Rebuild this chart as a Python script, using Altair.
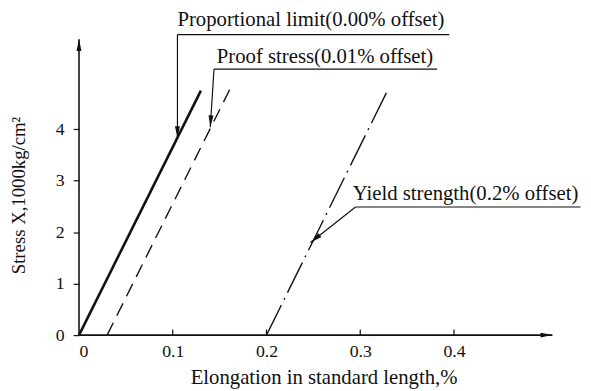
import math
import altair as alt
import pandas as pd

# ---- data ----
series = ["Proportional limit", "Proof stress", "Yield strength"]
line_x0 = [0.0, 0.03, 0.20]
line_y0 = [0.0, 0.0, 0.0]
line_x1 = [0.130, 0.161, 0.329]
line_y1 = [4.75, 4.78, 4.75]

ann_text = ["Proportional limit(0.00% offset)", "Proof stress(0.01% offset)", "Yield strength(0.2% offset)"]
ann_text_x = [0.105, 0.147, 0.292]
ann_text_y = [6.12, 5.40, 2.74]
ann_ul_x0 = [0.105, 0.144, 0.295]
ann_ul_x1 = [0.395, 0.382, 0.535]
ann_ul_y = [5.84, 5.17, 2.49]
ann_tip_x = [0.105, 0.140, 0.247]
ann_tip_y = [3.83, 4.04, 1.80]

x_ticks = [0, 0.1, 0.2, 0.3, 0.4]
y_ticks = [0, 1, 2, 3, 4]
x_max = 0.505
y_max = 5.75

W, H = 480, 300
FONT = "Liberation Serif"
INK = "#111111"

xs = alt.Scale(domain=[0, x_max], nice=False, zero=False)
ys = alt.Scale(domain=[0, y_max], nice=False, zero=False)

x_axis = alt.Axis(values=x_ticks, format="~g", ticks=False, domain=False, grid=False,
                  labelFont=FONT, labelFontSize=18, labelColor=INK, labelPadding=8,
                  title="Elongation in standard length,%", titleFont=FONT, titleFontSize=21,
                  titleFontWeight="normal", titleColor=INK, titleX=248, titleY=49,
                  titleBaseline="alphabetic", titleAlign="center")
y_axis = alt.Axis(values=y_ticks, format="d", ticks=True, tickSize=6, tickWidth=1.2, tickColor=INK,
                  domain=False, grid=False, labelFont=FONT, labelFontSize=18, labelColor=INK,
                  labelPadding=9, title="Stress X,1000kg/cm²", titleFont=FONT, titleFontSize=19,
                  titleFontWeight="normal", titleColor=INK, titleAngle=270, titleX=-55, titleY=158,
                  titleBaseline="alphabetic", titleAlign="center")


def X(field="x"):
    return alt.X(f"{field}:Q", scale=xs, axis=x_axis)


def Y(field="y"):
    return alt.Y(f"{field}:Q", scale=ys, axis=y_axis)


# lines
rows = []
for s, a, b, c, d in zip(series, line_x0, line_y0, line_x1, line_y1):
    rows.append({"series": s, "x": a, "y": b, "o": 0})
    rows.append({"series": s, "x": c, "y": d, "o": 1})
lines_df = pd.DataFrame(rows)

# annotation segments (underline + leader)
seg_rows = []
for i in range(3):
    seg_rows.append({"x": ann_ul_x0[i], "y": ann_ul_y[i], "x2": ann_ul_x1[i], "y2": ann_ul_y[i]})
    seg_rows.append({"x": ann_ul_x0[i], "y": ann_ul_y[i], "x2": ann_tip_x[i], "y2": ann_tip_y[i]})
seg_df = pd.DataFrame(seg_rows)

kx, ky = W / x_max, H / y_max
arrow_rows = []
for i in range(3):
    dx = (ann_ul_x0[i] - ann_tip_x[i]) * kx
    dys = -(ann_ul_y[i] - ann_tip_y[i]) * ky
    ang = math.degrees(math.atan2(dx, -dys)) % 360
    arrow_rows.append({"x": ann_tip_x[i], "y": ann_tip_y[i], "angle": ang})
arrow_rows.append({"x": 0.0, "y": y_max, "angle": 180})
arrow_rows.append({"x": x_max, "y": 0.0, "angle": 270})
arrow_df = pd.DataFrame(arrow_rows)

text_df = pd.DataFrame({"label": ann_text, "x": ann_text_x, "y": ann_text_y})

axis_df = pd.DataFrame({"x": [0.0, 0.0], "y": [0.0, 0.0], "x2": [0.0, x_max], "y2": [y_max, 0.0]})
xtick_df = pd.DataFrame({"x": x_ticks[1:], "y": [0.0] * 4, "y2": [0.11] * 4})

base_lines = alt.Chart(lines_df)

solid = base_lines.transform_filter(alt.datum.series == series[0]).mark_line(
    color=INK, strokeWidth=2.6).encode(x=X(), y=Y(), order="o:Q")
dashed = base_lines.transform_filter(alt.datum.series == series[1]).mark_line(
    color=INK, strokeWidth=1.4, strokeDash=[14, 8]).encode(x=X(), y=Y(), order="o:Q")
dashdot = base_lines.transform_filter(alt.datum.series == series[2]).mark_line(
    color=INK, strokeWidth=1.4, strokeDash=[34, 6, 2, 6]).encode(x=X(), y=Y(), order="o:Q")

axes_rules = alt.Chart(axis_df).mark_rule(color=INK, strokeWidth=1.6).encode(
    x=X(), y=Y(), x2="x2:Q", y2="y2:Q")
xticks = alt.Chart(xtick_df).mark_rule(color=INK, strokeWidth=1.2).encode(
    x=X(), y=Y(), y2="y2:Q")

segs = alt.Chart(seg_df).mark_rule(color=INK, strokeWidth=1.2).encode(
    x=X(), y=Y(), x2="x2:Q", y2="y2:Q")

arrows = alt.Chart(arrow_df).mark_point(
    shape="M0,0L-0.25,-1.2L0.25,-1.2Z", filled=True, color=INK, opacity=1, size=400).encode(
    x=X(), y=Y(), angle=alt.Angle("angle:Q", scale=None))

texts = alt.Chart(text_df).mark_text(
    align="left", baseline="middle", font=FONT, fontSize=21, color=INK).encode(
    x=X(), y=Y(), text="label:N")

chart = alt.layer(solid, dashed, dashdot, axes_rules, xticks, segs, arrows, texts).properties(
    width=W, height=H,
    autosize=alt.AutoSizeParams(type="none"),
    padding={"left": 72, "top": 29, "right": 31, "bottom": 53},
    background="white",
).configure_view(stroke=None)

chart.save("out.html", embed_options={"renderer": "svg", "actions": False})
